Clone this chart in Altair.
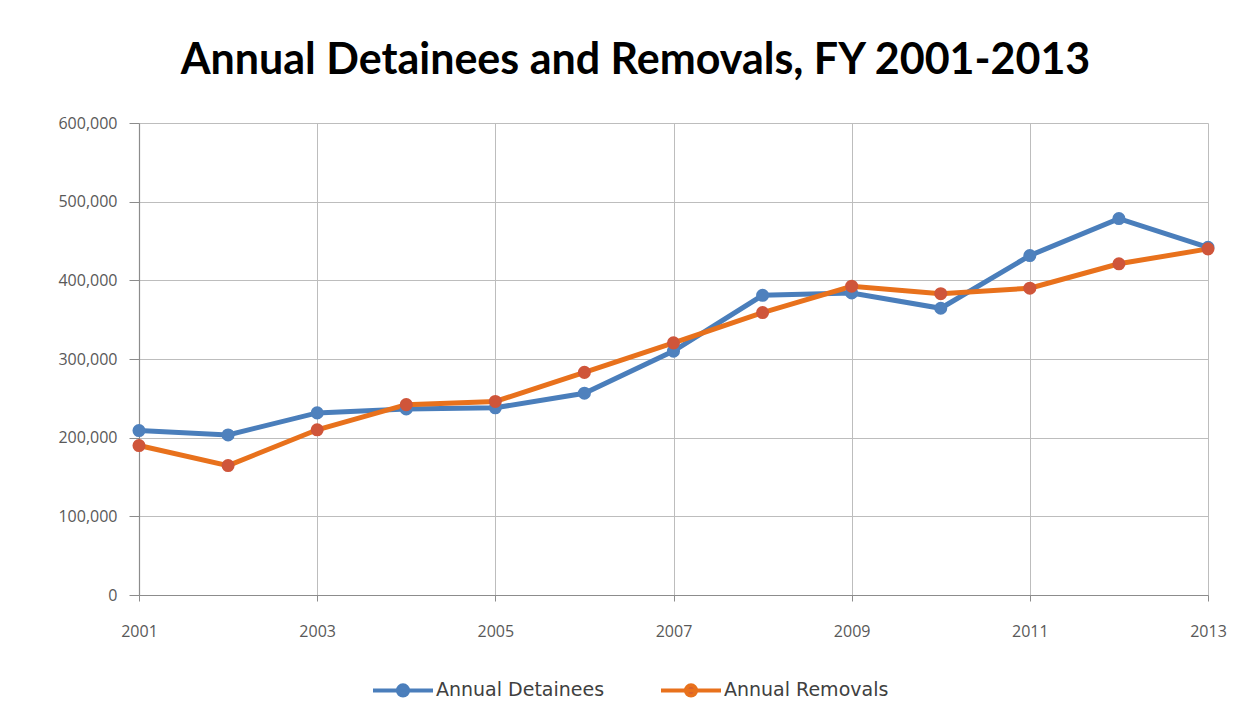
import altair as alt
import pandas as pd

years = list(range(2001, 2014))
detainees = [209000, 203500, 231500, 236500, 238000, 256500, 310000, 381000, 384000, 364500, 431500, 478500, 442000]
removals = [190000, 164500, 210000, 242000, 246000, 283000, 320500, 359000, 392500, 383000, 390000, 421000, 440000]
series_names = ["Annual Detainees", "Annual Removals"]
x_ticks = [2001, 2003, 2005, 2007, 2009, 2011, 2013]
y_ticks = [0, 100000, 200000, 300000, 400000, 500000, 600000]

rows = []
for y, d, r in zip(years, detainees, removals):
    rows.append({"year": y, "value": d, "series": series_names[0]})
    rows.append({"year": y, "value": r, "series": series_names[1]})
df = pd.DataFrame(rows)

line_colors = ["#4A7EBB", "#E8711C"]
marker_colors = ["#4F81BD", "#CF553A"]

legend_path = ("M-1,0L1,0M0.17,0A0.17,0.17,0,1,1,-0.17,0"
               "A0.17,0.17,0,1,1,0.17,0Z")

legend = alt.Legend(
    title=None, orient="none", direction="horizontal", legendX=232, legendY=535,
    symbolType=legend_path, symbolSize=3600, symbolStrokeWidth=4,
    labelFont="DejaVu Sans", labelFontSize=19, labelColor="#404040",
    labelLimit=400, columnPadding=48, labelOffset=1,
)

x_enc = alt.X("year:Q", scale=alt.Scale(domain=[2001, 2013], nice=False, zero=False),
              axis=alt.Axis(values=x_ticks, format="d", title=None, labelPadding=22,
                            tickSize=6, labelFlush=False))
y_enc = alt.Y("value:Q", scale=alt.Scale(domain=[0, 600000], nice=False),
              axis=alt.Axis(values=y_ticks, format=",d", title=None, tickSize=10,
                            labelPadding=12))

stroke_scale = alt.Scale(domain=series_names, range=line_colors)
fill_scale = alt.Scale(domain=series_names, range=marker_colors)

lines = alt.Chart(df).mark_line(strokeWidth=5).encode(
    x=x_enc, y=y_enc,
    stroke=alt.Stroke("series:N", scale=stroke_scale, legend=legend, sort=series_names),
)
points = alt.Chart(df).mark_point(filled=True, size=170, strokeWidth=0, opacity=1).encode(
    x=x_enc, y=y_enc,
    stroke=alt.Stroke("series:N", scale=stroke_scale, legend=legend, sort=series_names),
    fill=alt.Fill("series:N", scale=fill_scale, legend=legend, sort=series_names),
)

chart = alt.layer(lines, points).properties(
    width=1069, height=472,
    background="white",
    title=alt.TitleParams("Annual Detainees and Removals, FY 2001-2013",
                          font="Lato", fontSize=43, fontWeight="bold", color="#000000",
                          anchor="middle", offset=32, dx=-38),
    padding={"left": 131, "top": 115, "right": 32, "bottom": 120},
    autosize=alt.AutoSizeParams(type="none"),
).configure_view(stroke=None).configure_axis(
    labelFont="Open Sans", labelFontSize=16, labelColor="#595959",
    gridColor="#bdbdbd", gridWidth=1, domainColor="#8c8c8c", tickColor="#8c8c8c",
    domainWidth=1.2,
)

chart.save("out.html", embed_options={"renderer": "svg", "actions": False})
